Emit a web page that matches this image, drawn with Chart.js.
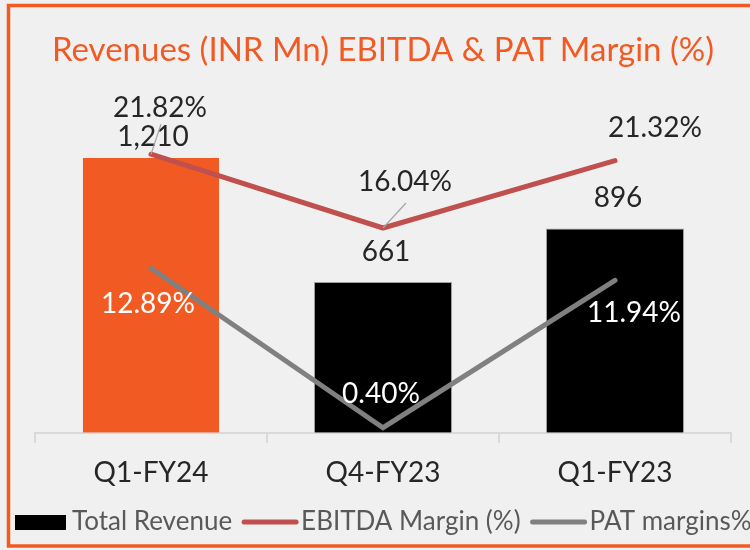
<!DOCTYPE html>
<html>
<head>
<meta charset="utf-8">
<script src="https://cdn.jsdelivr.net/npm/chart.js@4"></script>
<style>
  html, body { margin: 0; padding: 0; background: #f0f0f0; }
  #wrap { width: 750px; height: 550px; }
</style>
</head>
<body>
<div id="wrap"><canvas id="c" width="750" height="550"></canvas></div>
<script>
// ---- data ----
const categories = ['Q1-FY24', 'Q4-FY23', 'Q1-FY23'];
const totalRevenue = [1210, 661, 896];
const revenueLabels = ['1,210', '661', '896'];
const ebitdaMargin = [21.82, 16.04, 21.32];
const patMargin = [12.89, 0.40, 11.94];
const seriesNames = ['Total Revenue', 'EBITDA Margin (%)', 'PAT margins%'];
const titleText = 'Revenues (INR Mn) EBITDA & PAT Margin (%)';

// ---- styles ----
const ORANGE = '#f15a22';
const RED = '#c0504d';
const GRAY = '#808080';
const FONT = 'Lato, "Open Sans", sans-serif';
const barColors = [ORANGE, '#000000', '#000000'];

// label placement (pixel nudges relative to each mark)
const labelStyle = {
  revenue: { color: '#262626', offs: [[2, -20], [3, -30], [3, -31]] },
  ebitda:  { color: '#262626', offs: [[9, -46], [22, -46], [40, -33]],
             leaders: [[10, -30], [23, -25], null] },
  pat:     { color: '#ffffff', offs: [[-3, 36], [-2, -34], [19, 33]] }
};

const fmtPct = v => v.toFixed(2) + '%';

const decor = {
  id: 'decor',
  beforeDraw(chart) {
    const ctx = chart.ctx;
    ctx.save();
    ctx.fillStyle = '#f0f0f0';
    ctx.fillRect(0, 0, chart.width, chart.height);
    ctx.strokeStyle = ORANGE;
    ctx.lineWidth = 3.5;
    ctx.strokeRect(8.5, 5.5, chart.width + 20, 540.5);
    ctx.restore();
  },
  afterDatasetsDraw(chart) {
    const ctx = chart.ctx;
    ctx.save();
    ctx.font = '28px ' + FONT;
    ctx.textAlign = 'center';
    ctx.textBaseline = 'middle';
    const groups = [
      ['revenue', 0, revenueLabels],
      ['ebitda', 1, ebitdaMargin.map(fmtPct)],
      ['pat', 2, patMargin.map(fmtPct)]
    ];
    groups.forEach(([key, di, texts]) => {
      const st = labelStyle[key];
      const meta = chart.getDatasetMeta(di);
      meta.data.forEach((el, i) => {
        const o = st.offs[i];
        if (st.leaders && st.leaders[i]) {
          const l = st.leaders[i];
          ctx.strokeStyle = '#a6a6a6';
          ctx.lineWidth = 1.2;
          ctx.beginPath();
          ctx.moveTo(el.x, el.y);
          ctx.lineTo(el.x + l[0], el.y + l[1]);
          ctx.stroke();
        }
        ctx.fillStyle = st.color;
        ctx.fillText(texts[i], el.x + o[0], el.y + o[1]);
      });
    });
    ctx.restore();
  },
  afterDraw(chart) {
    const ctx = chart.ctx;
    ctx.save();
    ctx.font = '26px ' + FONT;
    ctx.textBaseline = 'middle';
    ctx.textAlign = 'left';
    const y = 522;
    let x = 15;
    // bar swatch
    ctx.fillStyle = '#000000';
    ctx.fillRect(x, y - 7, 51, 15);
    x += 57;
    ctx.fillStyle = '#595959';
    ctx.fillText(seriesNames[0], x, y);
    x += ctx.measureText(seriesNames[0]).width + 10;
    const lines = [[RED, seriesNames[1]], [GRAY, seriesNames[2]]];
    lines.forEach(([col, name]) => {
      ctx.strokeStyle = col;
      ctx.lineWidth = 5;
      ctx.lineCap = 'round';
      ctx.beginPath();
      ctx.moveTo(x + 2, y);
      ctx.lineTo(x + 54, y);
      ctx.stroke();
      x += 59;
      ctx.fillStyle = '#595959';
      ctx.fillText(name, x, y);
      x += ctx.measureText(name).width + 10;
    });
    ctx.restore();
  }
};

new Chart(document.getElementById('c'), {
  data: {
    labels: categories,
    datasets: [
      {
        type: 'bar', label: seriesNames[0], data: totalRevenue, yAxisID: 'y',
        backgroundColor: barColors, borderColor: ['rgba(0,0,0,0)', '#a0a0a0', '#a0a0a0'],
        borderWidth: 1, barPercentage: 0.595, categoryPercentage: 1, order: 3
      },
      {
        type: 'line', label: seriesNames[1], data: ebitdaMargin, yAxisID: 'y1',
        borderColor: RED, borderWidth: 5, pointRadius: 0, borderCapStyle: 'round',
        borderJoinStyle: 'round', tension: 0, fill: false, order: 2
      },
      {
        type: 'line', label: seriesNames[2], data: patMargin, yAxisID: 'y1',
        borderColor: GRAY, borderWidth: 5, pointRadius: 0, borderCapStyle: 'round',
        borderJoinStyle: 'miter', tension: 0, fill: false, order: 1
      }
    ]
  },
  options: {
    responsive: false,
    animation: false,
    devicePixelRatio: 1,
    layout: { padding: { left: 35, right: 19, top: 0, bottom: 47.6 } },
    plugins: {
      legend: { display: false },
      tooltip: { enabled: false },
      title: {
        display: true, text: titleText, color: ORANGE,
        font: { family: FONT, size: 33, weight: 'normal' },
        padding: { top: 31, bottom: 43 }
      }
    },
    scales: {
      x: {
        grid: { display: true, drawOnChartArea: false, drawTicks: true, tickLength: 10, color: '#d9d9d9', lineWidth: 2 },
        border: { display: true, color: '#d9d9d9', width: 2 },
        ticks: { color: '#262626', font: { family: FONT, size: 28 }, padding: 13, maxRotation: 0 }
      },
      y: { display: false, min: 0, max: 1400 },
      y1: { display: false, min: 0, max: 25, position: 'right' }
    }
  },
  plugins: [decor]
});
</script>
</body>
</html>
